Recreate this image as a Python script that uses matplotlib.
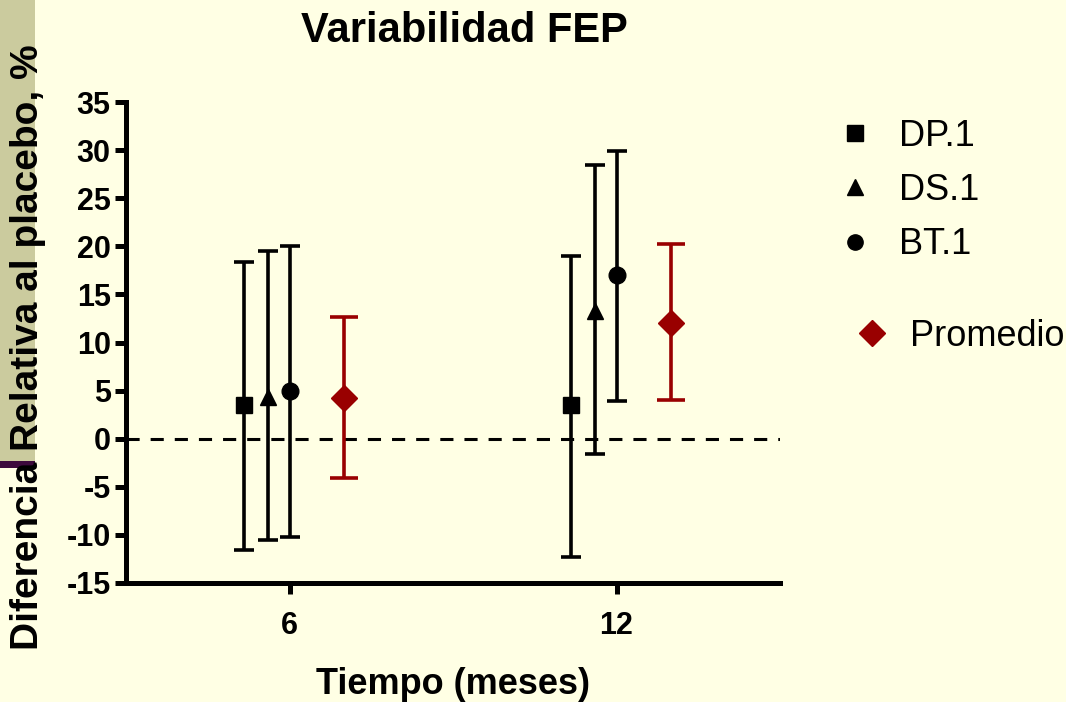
import numpy as np
import matplotlib.pyplot as plt
from matplotlib.lines import Line2D
from matplotlib.patches import Rectangle

plt.rcParams['font.family'] = ['Liberation Sans', 'DejaVu Sans']
plt.rcParams['axes.unicode_minus'] = False

## data
meses = np.array([6, 12])
series = ["DP.1", "DS.1", "BT.1"]
offsets = [-0.84, -0.4, 0.0]   # horizontal nudge of each series around the month
markers = ["s", "^", "o"]

dp_val = np.array([3.5, 3.5]);   dp_lo = np.array([-11.6, -12.3]); dp_hi = np.array([18.4, 19.0])
ds_val = np.array([4.3, 13.3]);  ds_lo = np.array([-10.5, -1.6]);  ds_hi = np.array([19.5, 28.5])
bt_val = np.array([5.0, 17.0]);  bt_lo = np.array([-10.2, 3.9]);   bt_hi = np.array([20.0, 29.9])

prom_val = np.array([4.2, 12.0]); prom_lo = np.array([-4.1, 4.0]); prom_hi = np.array([12.7, 20.2])
prom_offset = 1.0

bg = "#FFFFE4"
rojo = "#990000"

fig = plt.figure(figsize=(10.66, 7.02), dpi=100, facecolor=bg)
# decorative strip on the left edge of the slide
fig.add_artist(Rectangle((0, 1 - 461/702), 35/1066, 461/702, transform=fig.transFigure,
                         facecolor="#CBCB9E", edgecolor="none", zorder=0))
fig.add_artist(Rectangle((0, 1 - 468/702), 35/1066, 7/702, transform=fig.transFigure,
                         facecolor="#3D0A3D", edgecolor="none", zorder=0))

ax = fig.add_axes([126/1066, 119/702, 654/1066, 481/702])
ax.set_facecolor("none")

ax.axhline(0, color="black", lw=2.2, dashes=(4.3, 3.6), zorder=1)

data = [(dp_val, dp_lo, dp_hi), (ds_val, ds_lo, ds_hi), (bt_val, bt_lo, bt_hi)]
for (v, lo, hi), off, m, name in zip(data, offsets, markers, series):
    ax.errorbar(meses + off, v, yerr=[v - lo, hi - v], fmt=m, color="black", ms=12,
                elinewidth=2.6, capsize=7, capthick=2.6, clip_on=False, zorder=3)

ax.errorbar(meses + prom_offset, prom_val, yerr=[prom_val - prom_lo, prom_hi - prom_val],
            fmt="D", color=rojo, ms=13.5, elinewidth=2.6, capsize=10, capthick=2.6,
            clip_on=False, zorder=3)

ax.set_xlim(3, 15)
ax.set_ylim(-15, 35)
ax.set_xticks(meses)
ax.set_yticks(np.arange(-15, 36, 5))
for s in ["top", "right"]:
    ax.spines[s].set_visible(False)
for s in ["left", "bottom"]:
    ax.spines[s].set_linewidth(3.6)
ax.tick_params(width=3.6, length=8, labelsize=22)
ax.tick_params(axis="y", pad=3)
ax.tick_params(axis="x", pad=12)
for lab in ax.get_xticklabels() + ax.get_yticklabels():
    lab.set_fontweight("bold")

fig.text(464/1066, 1 - 31/702, "Variabilidad FEP", fontsize=30, fontweight="bold",
         ha="center", va="center")
ax.set_xlabel("Tiempo (meses)", fontsize=26, fontweight="bold", labelpad=19)
fig.text(28/1066, 1 - 347/702, "Diferencia Relativa al placebo, %", rotation=90,
         fontsize=28, fontweight="bold", ha="center", va="center")

# legend, three series together and the mean a bit apart
h = [Line2D([], [], ls="none", marker=m, color="black", ms=11) for m in markers]
fig.legend(h, series, loc="upper left", bbox_to_anchor=(801/1066, 1 - 86/702),
           frameon=False, fontsize=26, handletextpad=0.6, labelspacing=0.54,
           handlelength=1.2)
hp = [Line2D([], [], ls="none", marker="D", color=rojo, ms=13.5)]
fig.legend(hp, ["Promedio"], loc="upper left", bbox_to_anchor=(818/1066, 1 - 286/702),
           frameon=False, fontsize=26, handletextpad=0.45, handlelength=1.2)

fig.savefig("out.png", dpi=100, facecolor=bg)
